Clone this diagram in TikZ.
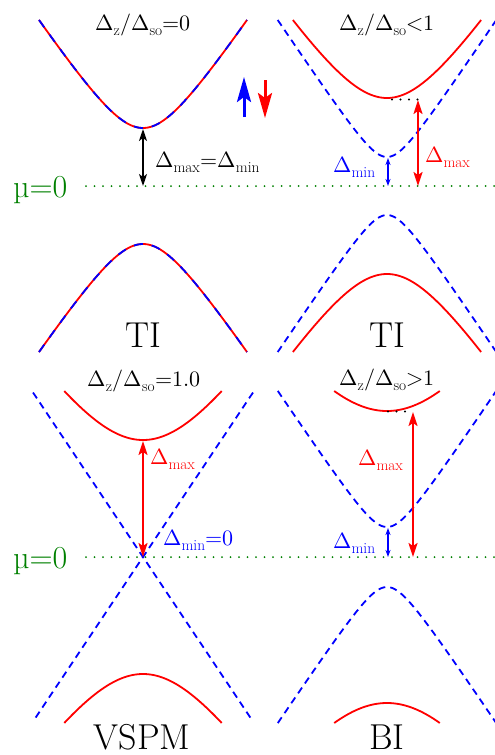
\documentclass[tikz,border=0pt]{standalone}
\usepackage{unicode-math}
\setmathfont{Latin Modern Math}
\usetikzlibrary{arrows.meta}
\definecolor{dgreen}{RGB}{0,128,0}
\tikzset{
  cband/.style={red, line width=1.8pt},
  vband/.style={blue, line width=1.8pt, dash pattern=on 7pt off 5pt},
  mixband/.style={blue, line width=1.8pt, dash pattern=on 9pt off 9pt},
  muline/.style={dgreen, line width=2pt, line cap=round, dash pattern=on 0pt off 8.5pt},
  levdots/.style={black, line width=2.4pt, line cap=round, dash pattern=on 0pt off 8.5pt},
  blkarrow/.style={black, line width=1.5pt, arrows={Stealth[length=12pt,width=8pt,inset=3pt]-Stealth[length=12pt,width=8pt,inset=3pt]}},
  redarrow/.style={red, line width=2pt, arrows={Stealth[length=14pt,width=9pt,inset=3pt]-Stealth[length=14pt,width=9pt,inset=3pt]}},
  bluearrow/.style={blue, line width=1.2pt, arrows={Stealth[length=7pt,width=5pt,inset=2pt]-Stealth[length=7pt,width=5pt,inset=2pt]}},
  spinarrow/.style={line width=3pt, arrows={-Stealth[length=25pt,width=14pt,inset=5pt]}},
  title/.style={anchor=base, inner sep=0pt, font=\fontsize{22}{26}\selectfont},
  lbl/.style={anchor=base west, inner sep=0pt, font=\fontsize{22}{26}\selectfont},
  mulbl/.style={anchor=base west, inner sep=0pt, text=dgreen, font=\fontsize{32}{36}\selectfont},
  phase/.style={anchor=base, inner sep=0pt, font=\fontsize{36}{42}\selectfont}
}
\begin{document}
\begin{tikzpicture}[x=1pt,y=-1pt]
\useasboundingbox (0,0) rectangle (495,755);

% ---------- top-left panel ----------
\draw[cband] plot[domain=-104:104,samples=100,smooth] ({143+\x},{186-10*sqrt(33.64+0.02237*\x*\x)});
\draw[mixband] plot[domain=-104:104,samples=100,smooth] ({143+\x},{186-10*sqrt(33.64+0.02237*\x*\x)});
\draw[cband] plot[domain=-104:104,samples=100,smooth] ({143+\x},{186+10*sqrt(33.64+0.02237*\x*\x)});
\draw[mixband] plot[domain=-104:104,samples=100,smooth] ({143+\x},{186+10*sqrt(33.64+0.02237*\x*\x)});

% ---------- top-right panel ----------
\draw[cband] plot[domain=-94.1:94.1,samples=100,smooth] ({387+\x},{186-10*sqrt(77.44+0.02237*\x*\x)});
\draw[cband] plot[domain=-94.1:94.1,samples=100,smooth] ({387+\x},{186+10*sqrt(77.44+0.02237*\x*\x)});
\draw[vband] plot[domain=-109.3:109.3,samples=100,smooth] ({387+\x},{186-10*sqrt(8.41+0.02237*\x*\x)});
\draw[vband] plot[domain=-109.3:109.3,samples=100,smooth] ({387+\x},{186+10*sqrt(8.41+0.02237*\x*\x)});

% ---------- bottom-left panel ----------
\draw[cband] plot[domain=-78.7:78.7,samples=100,smooth] ({143+\x},{557-10*sqrt(136.89+0.02237*\x*\x)});
\draw[cband] plot[domain=-78.7:78.7,samples=100,smooth] ({143+\x},{557+10*sqrt(136.89+0.02237*\x*\x)});
\coordinate (vtl) at (33,392.5);
\coordinate (vtr) at (253,392.5);
\coordinate (vbl) at (33,721.5);
\coordinate (vbr) at (253,721.5);
\draw[vband] (vtl) -- (vbr);
\draw[vband] (vtr) -- (vbl);

% ---------- bottom-right panel ----------
\draw[cband] plot[domain=-52.8:52.8,samples=80,smooth] ({387+\x},{557-10*sqrt(213.16+0.02237*\x*\x)});
\draw[cband] plot[domain=-52.8:52.8,samples=80,smooth] ({387+\x},{557+10*sqrt(213.16+0.02237*\x*\x)});
\draw[vband] plot[domain=-109.2:109.2,samples=100,smooth] ({387+\x},{557-10*sqrt(9+0.02237*\x*\x)});
\draw[vband] plot[domain=-109.2:109.2,samples=100,smooth] ({387+\x},{557+10*sqrt(9+0.02237*\x*\x)});

% ---------- mu = 0 lines ----------
\coordinate (mutA) at (86,186);
\coordinate (mutB) at (495,186);
\coordinate (mubA) at (86,557);
\coordinate (mubB) at (495,557);
\draw[muline] (mutA) -- (mutB);
\draw[muline] (mubA) -- (mubB);
\node[mulbl] (mut) at (13,197) {µ=0};
\node[mulbl] (mub) at (13,568) {µ=0};

% ---------- level dots ----------
\coordinate (d1a) at (392,99.5);
\coordinate (d1b) at (418,99.5);
\coordinate (d2a) at (388,411.5);
\coordinate (d2b) at (413,411.5);
\draw[levdots] (d1a) -- (d1b);
\draw[levdots] (d2a) -- (d2b);

% ---------- gap arrows ----------
\coordinate (a1t) at (143,129);
\coordinate (a1b) at (143,186);
\draw[blkarrow] (a1t) -- (a1b);

\coordinate (a2t) at (418,100);
\coordinate (a2b) at (418,186);
\draw[redarrow] (a2t) -- (a2b);
\coordinate (a3t) at (388,158);
\coordinate (a3b) at (388,186);
\draw[bluearrow] (a3t) -- (a3b);

\coordinate (a4t) at (143,441);
\coordinate (a4b) at (143,557);
\draw[redarrow] (a4t) -- (a4b);

\coordinate (a5t) at (413,412);
\coordinate (a5b) at (413,557);
\draw[redarrow] (a5t) -- (a5b);
\coordinate (a6t) at (388,528);
\coordinate (a6b) at (388,557);
\draw[bluearrow] (a6t) -- (a6b);

% ---------- spin arrows ----------
\coordinate (su0) at (244,117);
\coordinate (su1) at (244,77);
\coordinate (sd0) at (265,80);
\coordinate (sd1) at (265,118);
\draw[spinarrow, blue] (su0) -- (su1);
\draw[spinarrow, red] (sd0) -- (sd1);

% ---------- titles ----------
\node[title] (t1) at (143,30) {$\Delta_{\mathrm{z}}/\Delta_{\mathrm{so}}{=}0$};
\node[title] (t2) at (387,30) {$\Delta_{\mathrm{z}}/\Delta_{\mathrm{so}}{<}1$};
\node[title] (t3) at (144,386) {$\Delta_{\mathrm{z}}/\Delta_{\mathrm{so}}{=}1.0$};
\node[title] (t4) at (387,385) {$\Delta_{\mathrm{z}}/\Delta_{\mathrm{so}}{>}1$};

% ---------- gap labels ----------
\node[lbl] (l1) at (155,167) {$\Delta_{\mathrm{max}}{=}\Delta_{\mathrm{min}}$};
\node[lbl, text=red] (l2) at (425,162) {$\Delta_{\mathrm{max}}$};
\node[lbl, text=blue] (l3) at (333,172) {$\Delta_{\mathrm{min}}$};
\node[lbl, text=red] (l4) at (150,464) {$\Delta_{\mathrm{max}}$};
\node[lbl, text=blue] (l5) at (163,545) {$\Delta_{\mathrm{min}}{=}0$};
\node[lbl, text=red] (l6) at (358,465) {$\Delta_{\mathrm{max}}$};
\node[lbl, text=blue] (l7) at (333,548) {$\Delta_{\mathrm{min}}$};

% ---------- phase labels ----------
\node[phase] (p1) at (143,347) {TI};
\node[phase] (p2) at (387,347) {TI};
\node[phase] (p3) at (142,749) {VSPM};
\node[phase] (p4) at (387,749) {BI};
\end{tikzpicture}
\end{document}
